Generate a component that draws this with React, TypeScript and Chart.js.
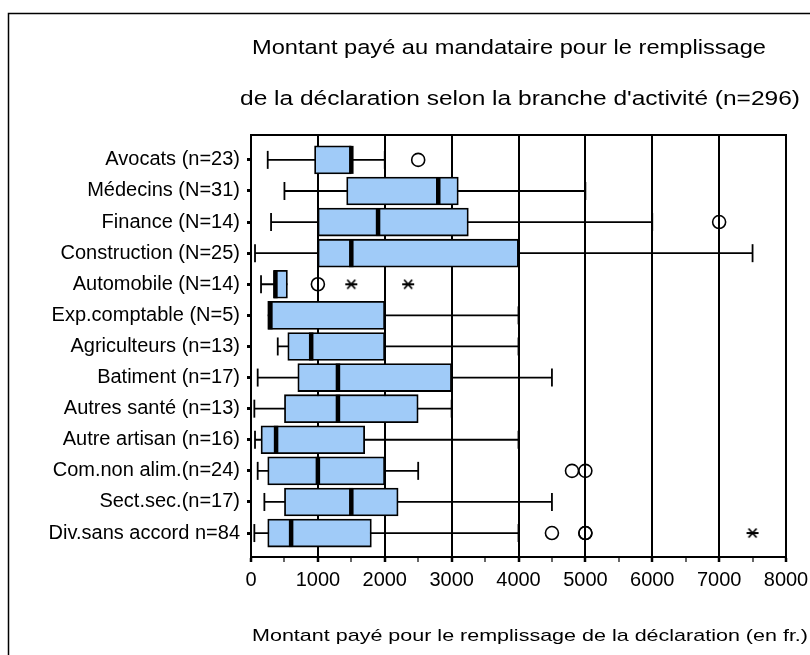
import React, { useEffect, useRef } from "react";
import { Chart, registerables } from "chart.js";

Chart.register(...registerables);

const categories = [
  "Avocats (n=23)",
  "Médecins (N=31)",
  "Finance (N=14)",
  "Construction (N=25)",
  "Automobile (N=14)",
  "Exp.comptable (N=5)",
  "Agriculteurs (n=13)",
  "Batiment (n=17)",
  "Autres santé (n=13)",
  "Autre artisan (n=16)",
  "Com.non alim.(n=24)",
  "Sect.sec.(n=17)",
  "Div.sans accord n=84",
];

const whiskerLow = [250, 500, 300, 60, 150, 250, 400, 100, 50, 60, 100, 200, 50];
const q1 = [950, 1430, 1000, 1000, 340, 250, 550, 700, 500, 150, 250, 500, 250];
const median = [1500, 2800, 1900, 1500, 365, 290, 900, 1300, 1300, 375, 1000, 1500, 600];
const q3 = [1500, 3100, 3250, 4000, 545, 2000, 2000, 3000, 2500, 1700, 2000, 2200, 1800];
const whiskerHigh = [2000, 5000, 6000, 7500, 545, 4000, 4000, 4500, 3000, 4000, 2500, 4500, 4000];

// [category index, value]
const outliers: [number, number][] = [
  [0, 2500],
  [2, 7000],
  [4, 1000],
  [10, 4800],
  [10, 5000],
  [12, 4500],
  [12, 5000],
  [12, 5000],
];
const extremes: [number, number][] = [
  [4, 1500],
  [4, 2350],
  [12, 7500],
];

const xTickValues = [0, 1000, 2000, 3000, 4000, 5000, 6000, 7000, 8000];

const titleLine1 = "Montant payé au mandataire pour le remplissage";
const titleLine2 = "de la déclaration selon la branche d'activité (n=296)";
const xAxisTitle = "Montant payé pour le remplissage de la déclaration (en fr.)";

const FONT = "'Liberation Sans', Arial, Helvetica, sans-serif";

function drawStretched(
  ctx: CanvasRenderingContext2D,
  text: string,
  x: number,
  y: number,
  size: number,
  width: number
) {
  ctx.save();
  ctx.font = `${size}px ${FONT}`;
  const w = ctx.measureText(text).width;
  ctx.translate(x, y);
  ctx.scale(width / w, 1);
  ctx.fillStyle = "#000";
  ctx.textAlign = "left";
  ctx.textBaseline = "middle";
  ctx.fillText(text, 0, 0);
  ctx.restore();
}

function makeStar(): HTMLCanvasElement {
  const c = document.createElement("canvas");
  c.width = 14;
  c.height = 12;
  const g = c.getContext("2d")!;
  g.strokeStyle = "#000";
  g.lineWidth = 1.8;
  g.beginPath();
  g.moveTo(1, 6);
  g.lineTo(13, 6);
  g.moveTo(3, 1.5);
  g.lineTo(11, 10.5);
  g.moveTo(11, 1.5);
  g.lineTo(3, 10.5);
  g.stroke();
  return c;
}

const framePlugin = {
  id: "framePlugin",
  beforeDraw(chart: any) {
    const ctx = chart.ctx;
    ctx.save();
    ctx.fillStyle = "#fff";
    ctx.fillRect(0, 0, chart.width, chart.height);
    ctx.strokeStyle = "#000";
    ctx.lineWidth = 1.5;
    ctx.strokeRect(8.5, 13.5, 900, 900);
    ctx.restore();
  },
  afterDraw(chart: any) {
    const ctx = chart.ctx;
    const a = chart.chartArea;
    ctx.save();
    ctx.strokeStyle = "#000";
    ctx.lineWidth = 2;
    ctx.beginPath();
    ctx.moveTo(a.left, a.top);
    ctx.lineTo(a.right, a.top);
    ctx.lineTo(a.right, a.bottom);
    ctx.stroke();
    ctx.restore();
    drawStretched(ctx, titleLine1, 252, 48, 20.5, 514);
    drawStretched(ctx, titleLine2, 240, 99, 20.5, 560);
    drawStretched(ctx, xAxisTitle, 252, 636, 17, 556);
  },
};

export default function App() {
  const ref = useRef<HTMLCanvasElement | null>(null);

  useEffect(() => {
    if (!ref.current) return;
    const star = makeStar();

    const whiskerData: any[] = [];
    categories.forEach((_, i) => {
      whiskerData.push({ x: whiskerLow[i], y: i });
      whiskerData.push({ x: whiskerHigh[i], y: i });
      whiskerData.push({ x: null, y: null });
    });
    const capData: any[] = [];
    categories.forEach((_, i) => {
      if (whiskerLow[i] < q1[i]) capData.push({ x: whiskerLow[i], y: i });
      if (whiskerHigh[i] > q3[i]) capData.push({ x: whiskerHigh[i], y: i });
    });

    const chart = new Chart(ref.current, {
      type: "bar",
      data: {
        datasets: [
          {
            type: "bar",
            label: "box",
            data: categories.map((_, i) => ({ x: [q1[i], q3[i]], y: i })) as any,
            backgroundColor: "#a0cbf8",
            borderColor: "#000",
            borderWidth: 1.8,
            borderSkipped: false,
            barThickness: 28,
            order: 2,
          } as any,
          {
            type: "scatter",
            label: "whiskers",
            data: whiskerData,
            showLine: true,
            spanGaps: false,
            borderColor: "#000",
            borderWidth: 1.8,
            pointRadius: 0,
            order: 3,
          } as any,
          {
            type: "scatter",
            label: "caps",
            data: capData,
            pointStyle: "line",
            rotation: 90,
            pointRadius: 9,
            borderColor: "#000",
            borderWidth: 1.8,
            order: 1,
          } as any,
          {
            type: "scatter",
            label: "median",
            data: categories.map((_, i) => ({ x: median[i], y: i })),
            pointStyle: "line",
            rotation: 90,
            pointRadius: 14,
            borderColor: "#000",
            borderWidth: 4.5,
            order: 1,
          } as any,
          {
            type: "scatter",
            label: "outliers",
            data: outliers.map(([i, v]) => ({ x: v, y: i })),
            pointStyle: "circle",
            pointRadius: 6.5,
            borderColor: "#000",
            borderWidth: 1.6,
            backgroundColor: "rgba(0,0,0,0)",
            order: 0,
          } as any,
          {
            type: "scatter",
            label: "extremes",
            data: extremes.map(([i, v]) => ({ x: v, y: i })),
            pointStyle: star,
            pointRadius: 6,
            order: 0,
          } as any,
        ],
      },
      options: {
        indexAxis: "y",
        responsive: false,
        animation: false,
        events: [],
        layout: { padding: { top: 135, right: 24, left: 8, bottom: 0 } },
        plugins: {
          legend: { display: false },
          tooltip: { enabled: false },
          title: { display: false },
        },
        scales: {
          x: {
            type: "linear",
            min: 0,
            max: 8000,
            offset: false,
            afterBuildTicks: (scale: any) => {
              const t: any[] = [];
              for (let v = 0; v <= 8000; v += 500) t.push({ value: v });
              scale.ticks = t;
            },
            afterFit: (scale: any) => {
              scale.height = 98;
              scale.paddingLeft = 0;
              scale.paddingRight = 0;
            },
            ticks: {
              autoSkip: false,
              maxRotation: 0,
              padding: 6,
              color: "#000",
              font: { family: FONT, size: 20 },
              callback: (v: any) => (xTickValues.includes(Number(v)) ? String(v) : ""),
            },
            grid: {
              offset: false,
              color: (c: any) =>
                c.tick && xTickValues.includes(c.tick.value) ? "#000" : "rgba(0,0,0,0)",
              lineWidth: 2,
              tickColor: "#000",
              tickLength: 5,
              tickWidth: (c: any) =>
                c.tick && xTickValues.includes(c.tick.value) ? 2.5 : 1.2,
            },
            border: { display: true, color: "#000", width: 2 },
          } as any,
          y: {
            type: "linear",
            min: -0.8,
            max: 12.77,
            reverse: true,
            offset: false,
            afterBuildTicks: (scale: any) => {
              scale.ticks = categories.map((_, i) => ({ value: i }));
            },
            afterFit: (scale: any) => {
              scale.width = 243;
              scale.paddingTop = 0;
              scale.paddingBottom = 0;
            },
            ticks: {
              autoSkip: false,
              padding: 7,
              color: "#000",
              font: { family: FONT, size: 20 },
              callback: (v: any) => categories[Number(v)] ?? "",
            },
            grid: {
              offset: false,
              drawOnChartArea: false,
              drawTicks: true,
              tickLength: 4,
              tickWidth: 3,
              tickColor: "#000",
              color: "#000",
            },
            border: { display: true, color: "#000", width: 2 },
          } as any,
        },
      },
      plugins: [framePlugin],
    } as any);

    return () => chart.destroy();
  }, []);

  return (
    <div style={{ position: "absolute", left: 0, top: 0, width: 810, height: 655 }}>
      <canvas ref={ref} width={810} height={655} style={{ display: "block" }} />
    </div>
  );
}
